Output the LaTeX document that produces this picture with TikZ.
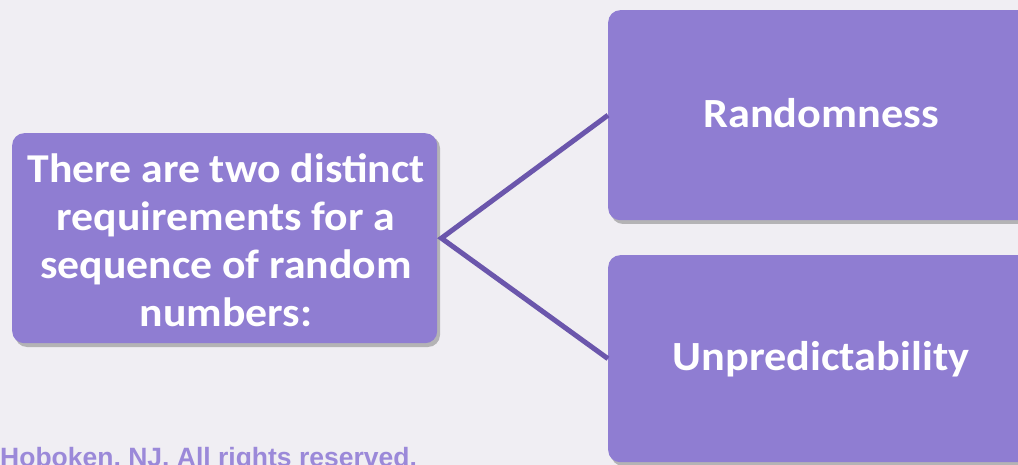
\documentclass[tikz,border=0pt]{standalone}
\usepackage{fontspec}
\setmainfont{Carlito}
\newfontfamily\boxfont[FakeStretch=1.067]{Carlito}
\newfontfamily\footfont{Liberation Sans}
\definecolor{bgc}{RGB}{240,238,243}
\definecolor{boxc}{RGB}{143,125,210}
\definecolor{linec}{RGB}{107,86,172}
\definecolor{footc}{RGB}{155,137,217}
\tikzset{
  pbox/.style={rectangle, rounded corners=12pt, fill=boxc, inner sep=0pt},
  ptext/.style={text=white, align=center, inner sep=0pt},
  shadowbox/.style={fill=black!45, opacity=0.6, rounded corners=12pt},
  conn/.style={draw=linec, line width=5pt, line join=miter}
}
\begin{document}
\begin{tikzpicture}[x=1pt,y=-1pt]
\useasboundingbox (0,0) rectangle (1018,465);
\clip (0,0) rectangle (1018,465);
\fill[bgc] (0,0) rectangle (1018,465);
% shadows
\fill[shadowbox] (15,136) rectangle (440,347);
\fill[shadowbox] (611,13) rectangle (1040,224);
\fill[shadowbox] (611,258) rectangle (1040,466);
% boxes
\node[pbox, minimum width=425pt, minimum height=210pt, anchor=north west] (src) at (12,133) {};
\node[ptext, font=\boxfont\fontsize{41}{48}\selectfont\bfseries] (srct) at (226,240) {There are two distinct\\requirements for a\\sequence of random\\numbers:};
\node[pbox, minimum width=430pt, minimum height=210pt, anchor=north west] (rand) at (608,10) {};
\node[ptext, font=\boxfont\fontsize{41.5}{48}\selectfont\bfseries, anchor=base] (randt) at (821,128) {Randomness};
\node[pbox, minimum width=430pt, minimum height=207pt, anchor=north west] (unp) at (608,255) {};
\node[ptext, font=\boxfont\fontsize{41.5}{48}\selectfont\bfseries, anchor=base] (unpt) at (821,370) {Unpredictability};
\coordinate (v) at ([xshift=4pt]src.east);
\draw[conn] (rand.west) -- (v) -- (unp.west);
\node[font=\footfont\fontsize{26.5}{30}\selectfont\bfseries, text=footc, anchor=base west, inner sep=0pt] (foot) at (0,466) {Hoboken, NJ. All rights reserved.};
\end{tikzpicture}
\end{document}
